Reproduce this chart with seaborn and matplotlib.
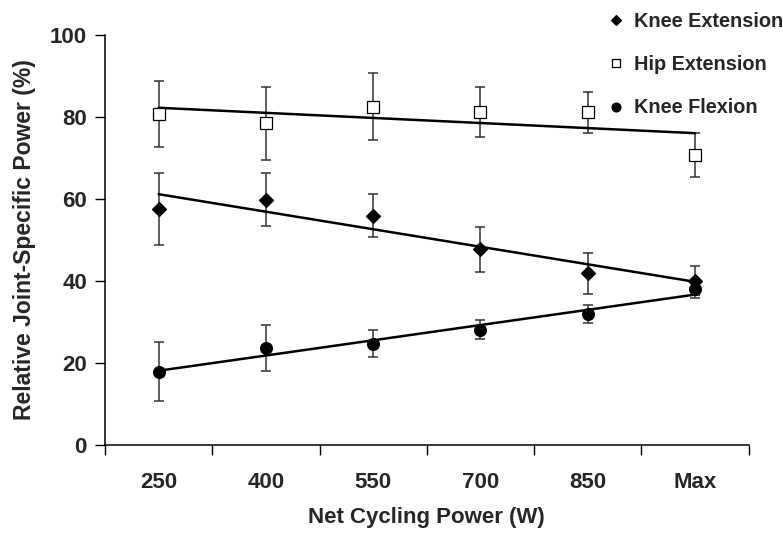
import matplotlib
matplotlib.use("Agg")
import matplotlib.pyplot as plt
import seaborn as sns
import numpy as np
import pandas as pd
from matplotlib.lines import Line2D

sns.set_theme(style="white")
plt.rcParams['font.family'] = ['Liberation Sans', 'DejaVu Sans']
plt.rcParams['font.weight'] = 'bold'

categories = ["250", "400", "550", "700", "850", "Max"]
knee_ext = [57.5, 59.8, 55.9, 47.7, 41.8, 40.0]
knee_ext_err = [8.8, 6.5, 5.3, 5.5, 5.0, 3.5]
hip_ext = [80.7, 78.5, 82.5, 81.3, 81.1, 70.7]
hip_ext_err = [8.1, 8.9, 8.1, 6.1, 5.0, 5.3]
knee_flex = [17.8, 23.5, 24.7, 28.1, 31.9, 38.1]
knee_flex_err = [7.2, 5.6, 3.3, 2.3, 2.3, 2.2]

series = [
    ("Knee Extension", knee_ext, knee_ext_err, "D", "black", 7),
    ("Hip Extension", hip_ext, hip_ext_err, "s", "white", 8),
    ("Knee Flexion", knee_flex, knee_flex_err, "o", "black", 8.5),
]

fig = plt.figure(figsize=(7.83, 5.34), dpi=100)
ax = fig.add_axes([0.1341, 0.1672, 0.9562 - 0.1341, 0.9345 - 0.1672])

pos = np.arange(len(categories))
for name, vals, errs, mk, fc, ms in series:
    df = pd.DataFrame({"x": pos, "y": vals})
    ax.errorbar(pos, vals, yerr=errs, fmt="none", ecolor="#333333",
                elinewidth=1.1, capsize=3.5, capthick=1.1, zorder=1)
    sns.regplot(data=df, x="x", y="y", ax=ax, ci=None, scatter=False,
                line_kws=dict(color="black", lw=1.8, zorder=2))
    ax.plot(pos, vals, linestyle="none", marker=mk, markersize=ms,
            markerfacecolor=fc, markeredgecolor="black", markeredgewidth=0.9,
            zorder=3)

ax.set_xlim(-0.5, 5.5)
ax.set_ylim(0, 100)
ax.set_yticks([0, 20, 40, 60, 80, 100])
ax.set_xticks(np.arange(-0.5, 6, 1))
ax.set_xticklabels([])
ax.set_xticks(pos, minor=True)
ax.set_xticklabels(categories, minor=True)
ax.tick_params(axis="x", which="major", direction="out", length=7, width=1, color="black", bottom=True)
ax.tick_params(axis="x", which="minor", length=0, pad=20, labelsize=16)
ax.tick_params(axis="y", direction="out", length=7, width=1, color="black", left=True, labelsize=16, pad=6)
for lab in ax.get_xticklabels(minor=True) + ax.get_yticklabels():
    lab.set_fontweight("bold")

for s in ["top", "right"]:
    ax.spines[s].set_visible(False)
for s in ["left", "bottom"]:
    ax.spines[s].set_color("black")
    ax.spines[s].set_linewidth(1.1)

ax.set_xlabel("Net Cycling Power (W)", fontsize=16, fontweight="bold", labelpad=10)
ax.set_ylabel("Relative Joint-Specific Power (%)", fontsize=16.5, fontweight="bold", labelpad=10)

handles = [Line2D([], [], linestyle="none", marker=mk, markersize=ms * 0.75,
                  markerfacecolor=fc, markeredgecolor="black", markeredgewidth=0.9)
           for name, vals, errs, mk, fc, ms in series]
labels = [s[0] for s in series]
fig.legend(handles, labels, loc="upper left", bbox_to_anchor=(604 / 783, 1 - 12 / 534),
           frameon=False, prop=dict(weight="bold", size=14.3), handletextpad=0.3,
           labelspacing=1.22, handlelength=1.2, borderaxespad=0, borderpad=0)

fig.savefig("out.png", dpi=100)
